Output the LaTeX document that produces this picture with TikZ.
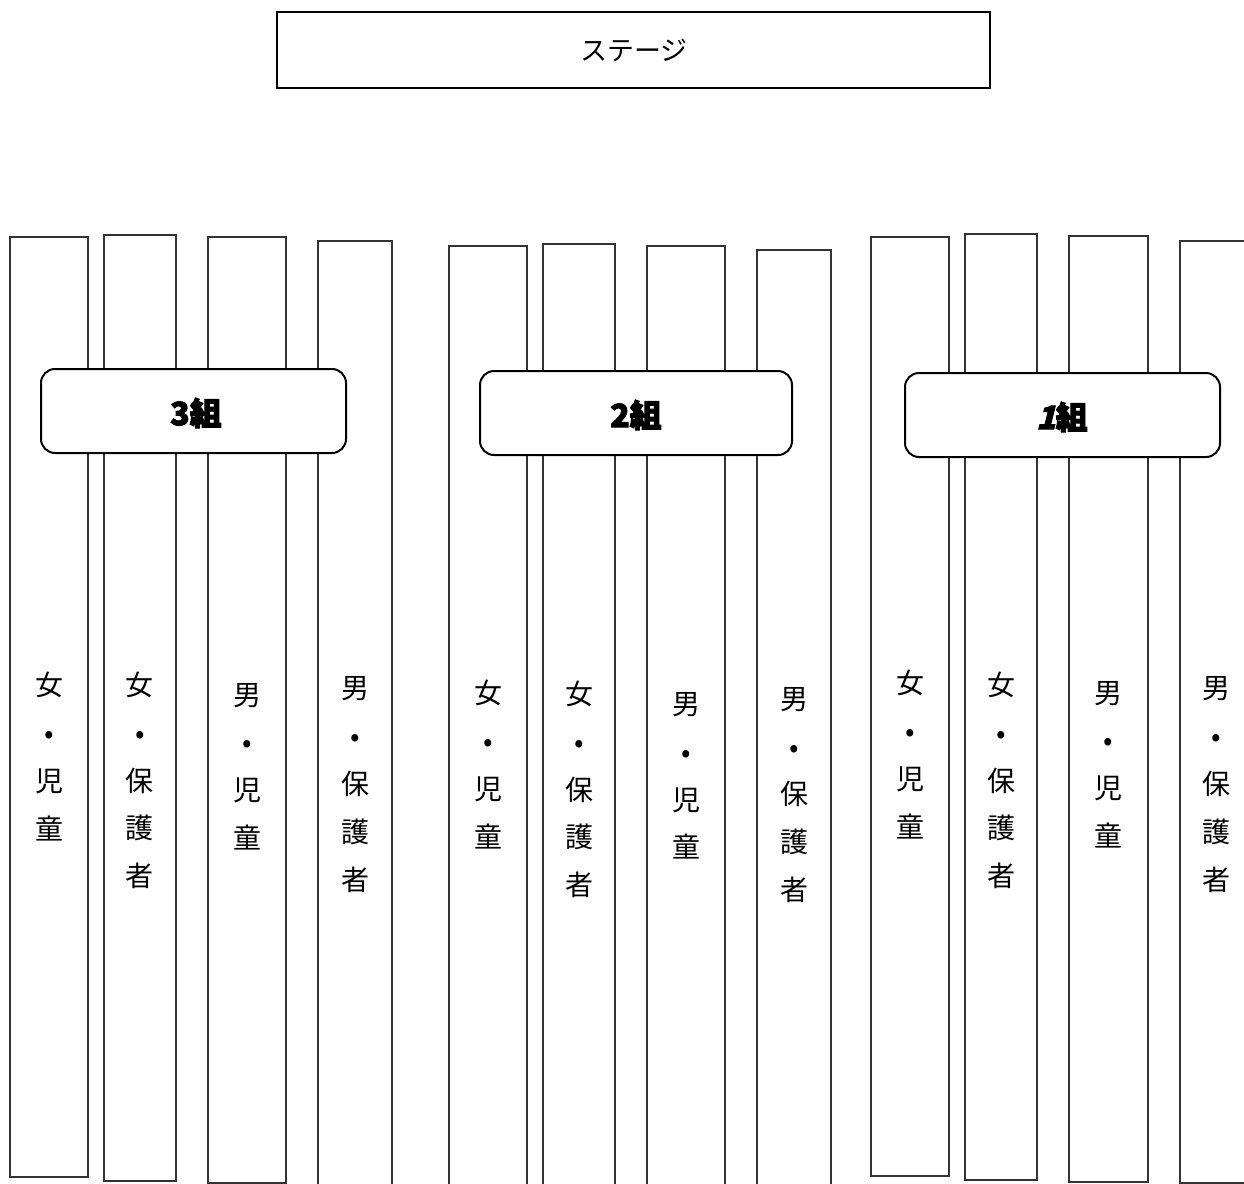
\documentclass[tikz,border=0pt]{standalone}
\usepackage{fontspec}
\newfontfamily\cjk{Noto Sans CJK JP}
\newfontfamily\cjkbold{Noto Sans CJK JP}[FakeBold=3]
\newfontfamily\cjkslant{Noto Sans CJK JP}[FakeBold=3,FakeSlant=0.25]
\begin{document}
\begin{tikzpicture}[x=0.5pt,y=-0.5pt,
  colbox/.style={draw=black!80,line width=0.7pt,fill=white},
  coltext/.style={font=\cjk\fontsize{14pt}{23.9pt}\selectfont,align=center,inner sep=0pt,
    execute at begin node=\setlength{\baselineskip}{23.9pt}},
  grpbox/.style={draw=black,line width=1pt,fill=white,rounded corners=7pt},
  grptext/.style={font=\cjkbold\fontsize{16pt}{18pt}\selectfont\bfseries,inner sep=0pt},
  stagebox/.style={draw=black,line width=1.3pt,fill=white}]
\useasboundingbox (0,0) rectangle (1244,1184);
\clip (0,0) rectangle (1244,1184);
\fill[white] (0,0) rectangle (1244,1184);
% stage
\draw[stagebox] (277,12) rectangle (990,88);
\node[font=\cjk\fontsize{13.5pt}{16pt}\selectfont,inner sep=0pt] (stage) at (634,50) {ステージ};
% columns: 3組
\draw[colbox] (10,237) rectangle (88,1177);
\draw[colbox] (104,235) rectangle (176,1181);
\draw[colbox] (208,237) rectangle (286,1183);
\draw[colbox] (318,241) rectangle (392,1195);
% 2組
\draw[colbox] (449,246) rectangle (527,1195);
\draw[colbox] (543,244) rectangle (615,1195);
\draw[colbox] (647,246) rectangle (725,1195);
\draw[colbox] (757,250) rectangle (831,1195);
% 1組
\draw[colbox] (871,237) rectangle (949,1176);
\draw[colbox] (965,234) rectangle (1037,1180);
\draw[colbox] (1069,236) rectangle (1148,1182);
\draw[colbox] (1180,241) rectangle (1270,1183);
% column texts
\node[coltext] (a) at (49,756.5) {女\\•\\児\\童};
\node[coltext] (b) at (140,780.5) {女\\•\\保\\護\\者};
\node[coltext] (c) at (247,766.5) {男\\•\\児\\童};
\node[coltext] (d) at (355,784.5) {男\\•\\保\\護\\者};
\node[coltext] (e) at (488,764.5) {女\\•\\児\\童};
\node[coltext] (f) at (579,789.5) {女\\•\\保\\護\\者};
\node[coltext] (g) at (686,776) {男\\•\\児\\童};
\node[coltext] (h) at (794,795) {男\\•\\保\\護\\者};
\node[coltext] (i) at (910,754.5) {女\\•\\児\\童};
\node[coltext] (j) at (1001,780.5) {女\\•\\保\\護\\者};
\node[coltext] (k) at (1108,764.5) {男\\•\\児\\童};
\node[coltext] (l) at (1216,784.5) {男\\•\\保\\護\\者};
% group labels
\draw[grpbox] (41,369) rectangle (346,453);
\node[grptext] (g3) at (196,413) {3組};
\draw[grpbox] (480,371) rectangle (792,455);
\node[grptext] (g2) at (636,415) {2組};
\draw[grpbox] (905,373) rectangle (1220,457);
\node[grptext] (g1) at (1062,417) {{\cjkslant 1}組};
\end{tikzpicture}
\end{document}
